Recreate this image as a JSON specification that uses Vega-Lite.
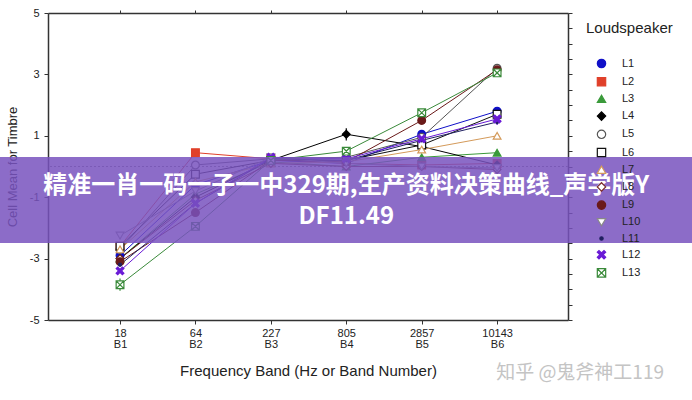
{
  "$schema": "https://vega.github.io/schema/vega-lite/v6.json",
  "width": 520,
  "height": 307,
  "autosize": {"type": "none"},
  "padding": {"left": 48, "top": 13, "right": 124, "bottom": 80},
  "background": "white",
  "config": {
    "font": "Liberation Sans",
    "view": {"stroke": null},
    "axis": {
      "domainColor": "#333333",
      "domainWidth": 1.5,
      "tickColor": "#333333",
      "tickWidth": 1,
      "labelColor": "#222222",
      "labelFontSize": 11,
      "titleColor": "#222222",
      "titleFontWeight": "normal",
      "grid": false
    },
    "legend": {
      "orient": "none", "legendX": 538, "legendY": 8, "padding": 0,
      "titleFontSize": 15, "titleFontWeight": "normal", "titleColor": "#222222", "titlePadding": 22,
      "labelFontSize": 11, "labelColor": "#222222", "labelOffset": 15, "symbolOffset": 10,
      "rowPadding": 3.2, "symbolSize": 70, "symbolStrokeWidth": 1.2
    }
  },
  "datasets": {
    "pts": [
      {"s": "L1", "b": 1, "v": -2.9}, {"s": "L1", "b": 2, "v": -0.6}, {"s": "L1", "b": 3, "v": 0.2}, {"s": "L1", "b": 4, "v": 0.1}, {"s": "L1", "b": 5, "v": 1.05}, {"s": "L1", "b": 6, "v": 1.8},
      {"s": "L2", "b": 1, "v": -2.6}, {"s": "L2", "b": 2, "v": 0.45}, {"s": "L2", "b": 3, "v": 0.25}, {"s": "L2", "b": 4, "v": 0.1}, {"s": "L2", "b": 5, "v": 0.05}, {"s": "L2", "b": 6, "v": 0.1},
      {"s": "L3", "b": 1, "v": -3.0}, {"s": "L3", "b": 2, "v": -0.9}, {"s": "L3", "b": 3, "v": 0.15}, {"s": "L3", "b": 4, "v": 0.0}, {"s": "L3", "b": 5, "v": 0.3}, {"s": "L3", "b": 6, "v": 0.45},
      {"s": "L4", "b": 1, "v": -3.0}, {"s": "L4", "b": 2, "v": -1.0}, {"s": "L4", "b": 3, "v": 0.2}, {"s": "L4", "b": 4, "v": 1.05}, {"s": "L4", "b": 5, "v": 0.65}, {"s": "L4", "b": 6, "v": 0.05},
      {"s": "L5", "b": 1, "v": -2.7}, {"s": "L5", "b": 2, "v": 0.05}, {"s": "L5", "b": 3, "v": 0.25}, {"s": "L5", "b": 4, "v": 0.3}, {"s": "L5", "b": 5, "v": 0.95}, {"s": "L5", "b": 6, "v": 3.2},
      {"s": "L6", "b": 1, "v": -2.6}, {"s": "L6", "b": 2, "v": -0.25}, {"s": "L6", "b": 3, "v": 0.2}, {"s": "L6", "b": 4, "v": 0.2}, {"s": "L6", "b": 5, "v": 0.7}, {"s": "L6", "b": 6, "v": 1.7},
      {"s": "L7", "b": 1, "v": -2.7}, {"s": "L7", "b": 2, "v": -0.5}, {"s": "L7", "b": 3, "v": 0.1}, {"s": "L7", "b": 4, "v": 0.15}, {"s": "L7", "b": 5, "v": 0.55}, {"s": "L7", "b": 6, "v": 1.0},
      {"s": "L8", "b": 1, "v": -3.0}, {"s": "L8", "b": 2, "v": -1.1}, {"s": "L8", "b": 3, "v": 0.1}, {"s": "L8", "b": 4, "v": 0.0}, {"s": "L8", "b": 5, "v": 0.0}, {"s": "L8", "b": 6, "v": -0.1},
      {"s": "L9", "b": 1, "v": -3.1}, {"s": "L9", "b": 2, "v": -1.5}, {"s": "L9", "b": 3, "v": 0.2}, {"s": "L9", "b": 4, "v": 0.15}, {"s": "L9", "b": 5, "v": 1.5}, {"s": "L9", "b": 6, "v": 3.15},
      {"s": "L10", "b": 1, "v": -2.25}, {"s": "L10", "b": 2, "v": -0.8}, {"s": "L10", "b": 3, "v": 0.3}, {"s": "L10", "b": 4, "v": 0.1}, {"s": "L10", "b": 5, "v": 0.0}, {"s": "L10", "b": 6, "v": -0.05},
      {"s": "L11", "b": 1, "v": -3.2}, {"s": "L11", "b": 2, "v": -1.2}, {"s": "L11", "b": 3, "v": 0.25}, {"s": "L11", "b": 4, "v": 0.2}, {"s": "L11", "b": 5, "v": 0.85}, {"s": "L11", "b": 6, "v": 1.45},
      {"s": "L12", "b": 1, "v": -3.4}, {"s": "L12", "b": 2, "v": -1.2}, {"s": "L12", "b": 3, "v": 0.3}, {"s": "L12", "b": 4, "v": 0.25}, {"s": "L12", "b": 5, "v": 0.9}, {"s": "L12", "b": 6, "v": 1.55},
      {"s": "L13", "b": 1, "v": -3.85}, {"s": "L13", "b": 2, "v": -1.95}, {"s": "L13", "b": 3, "v": 0.2}, {"s": "L13", "b": 4, "v": 0.5}, {"s": "L13", "b": 5, "v": 1.75}, {"s": "L13", "b": 6, "v": 3.05}
    ],
    "err": [
      {"s": "L4", "b": 4, "lo": 0.85, "hi": 1.25},
      {"s": "L4", "b": 5, "lo": 0.45, "hi": 0.85},
      {"s": "L13", "b": 1, "lo": -4.05, "hi": -3.65},
      {"s": "L12", "b": 6, "lo": 1.35, "hi": 1.75}
    ],
    "zero": [{"v": 0}],
    "banner": [{"x": -0.6, "x2": 8.6, "y": 0.31, "y2": -2.49}],
    "texts": [
      {"x": 4.0, "y": -0.64, "t": "精准一肖一码一子一中329期,生产资料决策曲线_声学版Y"},
      {"x": 4.0, "y": -1.64, "t": "DF11.49"}
    ],
    "mark": [{"x": 7.1, "y": -6.73, "t": "知乎 @鬼斧神工119"}]
  },
  "resolve": {"axis": {"x": "independent", "y": "independent"}},
  "layer": [
    {
      "layer": [
        {
          "data": {"name": "zero"},
          "mark": {"type": "rule", "color": "#888888", "strokeDash": [2, 2], "strokeWidth": 1},
          "encoding": {
            "y": {"field": "v", "type": "quantitative", "scale": {"domain": [-5, 5], "nice": false, "zero": false}}
          }
        },
        {
          "data": {"name": "pts"},
          "mark": {"type": "line", "strokeWidth": 1},
          "encoding": {
            "x": {"field": "b", "type": "quantitative",
              "scale": {"domain": [0.045, 6.94], "nice": false, "zero": false},
              "axis": {"orient": "bottom", "values": [1, 2, 3, 4, 5, 6], "tickSize": 4, "labelPadding": 3,
                "labelExpr": "[['18','64','227','805','2857','10143'][datum.value - 1], 'B' + datum.value]",
                "labelLineHeight": 11,
                "title": "Frequency Band  (Hz or Band Number)", "titleFontSize": 15, "titlePadding": 14}},
            "y": {"field": "v", "type": "quantitative",
              "scale": {"domain": [-5, 5], "nice": false, "zero": false},
              "axis": {"orient": "left",
                "values": [-5, -4.5, -4, -3.5, -3, -2.5, -2, -1.5, -1, -0.5, 0, 0.5, 1, 1.5, 2, 2.5, 3, 3.5, 4, 4.5, 5],
                "labelExpr": "abs(datum.value % 2) == 1 ? toString(datum.value) : ''",
                "tickSize": 4, "labelPadding": 5,
                "title": "Cell Mean for Timbre", "titleFontSize": 13, "titlePadding": 10}},
            "stroke": {"field": "s", "type": "nominal", "title": "Loudspeaker",
              "scale": {"domain": ["L1", "L2", "L3", "L4", "L5", "L6", "L7", "L8", "L9", "L10", "L11", "L12", "L13"],
                "range": ["#1010c8", "#e0402a", "#3a9a3a", "#000000", "#555555", "#111111", "#d49a5a", "#7a2a2a", "#6a1a1a", "#888888", "#202060", "#6a1bd6", "#3a8a3a"]}},
            "detail": {"field": "s"}
          }
        },
        {
          "data": {"name": "err"},
          "mark": {"type": "rule", "strokeWidth": 1.2},
          "encoding": {
            "x": {"field": "b", "type": "quantitative"},
            "y": {"field": "lo", "type": "quantitative"},
            "y2": {"field": "hi"},
            "stroke": {"field": "s", "type": "nominal", "title": "Loudspeaker"}
          }
        },
        {
          "data": {"name": "pts"},
          "mark": {"type": "point", "size": 60, "strokeWidth": 1.2, "opacity": 1},
          "encoding": {
            "x": {"field": "b", "type": "quantitative"},
            "y": {"field": "v", "type": "quantitative"},
            "stroke": {"field": "s", "type": "nominal", "title": "Loudspeaker"},
            "fill": {"field": "s", "type": "nominal", "title": "Loudspeaker",
              "scale": {"domain": ["L1", "L2", "L3", "L4", "L5", "L6", "L7", "L8", "L9", "L10", "L11", "L12", "L13"],
                "range": ["#1010c8", "#e0402a", "#3a9a3a", "#000000", "#ffffff", "#ffffff", "#ffffff", "#ffffff", "#6a1a1a", "#ffffff", "#202060", "#6a1bd6", "#ffffff"]}},
            "shape": {"field": "s", "type": "nominal", "title": "Loudspeaker",
              "scale": {"domain": ["L1", "L2", "L3", "L4", "L5", "L6", "L7", "L8", "L9", "L10", "L11", "L12", "L13"],
                "range": ["circle", "square", "triangle-up", "diamond", "circle", "square", "triangle-up", "diamond", "circle", "triangle-down",
                  "M-0.4,0A0.4,0.4,0,1,1,0.4,0A0.4,0.4,0,1,1,-0.4,0Z",
                  "M-1,-0.6L-0.6,-1L0,-0.4L0.6,-1L1,-0.6L0.4,0L1,0.6L0.6,1L0,0.4L-0.6,1L-1,0.6L-0.4,0Z",
                  "M-1,-1H1V1H-1ZM-1,-1L1,1M1,-1L-1,1"]}}
          }
        },
        {
          "data": {"name": "banner"},
          "mark": {"type": "rect", "fill": "#7852be", "opacity": 0.85},
          "encoding": {
            "x": {"field": "x", "type": "quantitative"},
            "x2": {"field": "x2"},
            "y": {"field": "y", "type": "quantitative"},
            "y2": {"field": "y2"}
          }
        },
        {
          "data": {"name": "texts"},
          "mark": {"type": "text", "font": "Noto Sans CJK SC", "fontWeight": "bold", "fontSize": 24, "color": "#ffffff", "align": "center", "baseline": "middle"},
          "encoding": {
            "x": {"field": "x", "type": "quantitative"},
            "y": {"field": "y", "type": "quantitative"},
            "text": {"field": "t"}
          }
        },
        {
          "data": {"name": "mark"},
          "mark": {"type": "text", "font": "Noto Sans CJK SC", "fontSize": 19, "color": "#c4c4c4", "align": "center", "baseline": "middle"},
          "encoding": {
            "x": {"field": "x", "type": "quantitative"},
            "y": {"field": "y", "type": "quantitative"},
            "text": {"field": "t"}
          }
        }
      ]
    },
    {
      "data": {"name": "zero"},
      "mark": {"type": "point", "opacity": 0},
      "encoding": {
        "x": {"datum": 1, "type": "quantitative",
          "axis": {"orient": "top", "values": [1, 2, 3, 4, 5, 6], "labels": false, "tickSize": 3, "title": null}},
        "y": {"field": "v", "type": "quantitative",
          "axis": {"orient": "right", "values": [-5, -4.5, -4, -3.5, -3, -2.5, -2, -1.5, -1, -0.5, 0, 0.5, 1, 1.5, 2, 2.5, 3, 3.5, 4, 4.5, 5], "labels": false, "tickSize": 4, "title": null}}
      }
    }
  ]
}
